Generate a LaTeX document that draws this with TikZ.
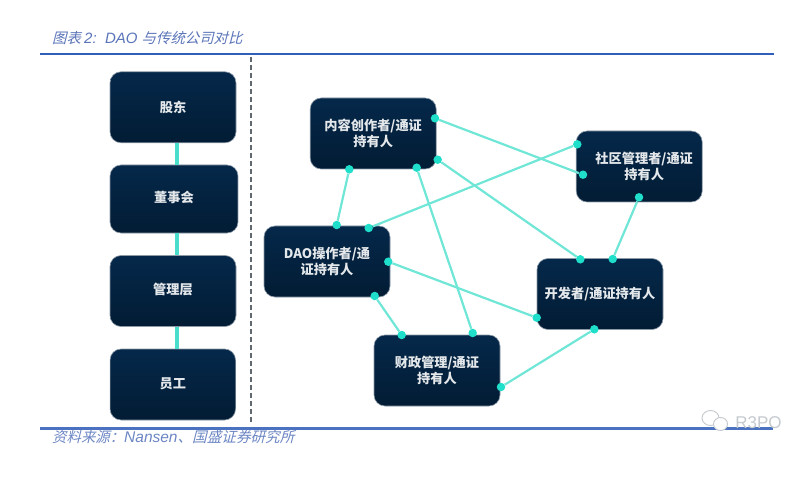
\documentclass[tikz,border=0pt]{standalone}
\usepackage{fontspec}
\newfontfamily\cjk{Noto Sans CJK SC}
\newfontfamily\cjkslant[AutoFakeSlant=0.25]{Noto Sans CJK SC}
\newfontfamily\latslant{Liberation Sans}
\definecolor{navytop}{HTML}{05284A}
\definecolor{navybot}{HTML}{021C34}
\definecolor{boxedge}{HTML}{8C9AA8}
\definecolor{boxtext}{HTML}{E4E8EB}
\definecolor{tealline}{HTML}{6FE6D6}
\definecolor{tealdot}{HTML}{1FDFCB}
\definecolor{tealbar}{HTML}{4ADDCC}
\definecolor{ruletop}{HTML}{2F5FB8}
\definecolor{rulebot}{HTML}{4A72C0}
\definecolor{captionblue}{HTML}{5A74B8}
\definecolor{sourceblue}{HTML}{6C86C4}
\definecolor{dashgrey}{HTML}{5F686E}
\definecolor{marktext}{HTML}{C4C9CE}
\tikzset{
  x=1pt,y=-1pt,
  orgbox/.style={draw=boxedge,line width=0.6pt,rounded corners=11pt,top color=navytop,bottom color=navybot,
    minimum width=126pt,minimum height=71pt,inner sep=0pt,align=center,text=boxtext,
    font=\cjk\fontsize{13.2}{16}\selectfont\bfseries},
  dot/.style={circle,fill=tealdot,minimum size=8.5pt,inner sep=0pt},
  link/.style={draw=tealline,line width=2.2pt},
  bar/.style={draw=tealbar,line width=3.4pt},
  rulea/.style={draw=ruletop,line width=1.8pt},
  ruleb/.style={draw=rulebot,line width=3pt},
  divider/.style={draw=dashgrey,line width=2pt,dash pattern=on 5pt off 3pt},
  captiontext/.style={inner sep=0pt,anchor=west,text=captionblue},
  sourcetext/.style={inner sep=0pt,anchor=west,text=sourceblue},
  wechat/.style={draw=marktext,fill=white,line width=0.9pt},
}
\begin{document}
\begin{tikzpicture}
\useasboundingbox (0,0) rectangle (811,481);
% rules
\coordinate (ta) at (40,54); \coordinate (tb) at (774,54);
\coordinate (ba) at (40,428); \coordinate (bb) at (773,428);
\coordinate (da) at (250.5,57); \coordinate (db) at (250.5,424);
\draw[rulea] (ta) -- (tb);
\draw[ruleb] (ba) -- (bb);
\draw[divider] (da) -- (db);
% captions
\node[captiontext] (title) at (52,38) {\cjkslant\fontsize{14.4}{16}\selectfont\itshape 图表 \latslant\itshape\fontsize{15}{16}\selectfont 2:\ \ DAO \cjkslant\itshape\fontsize{14.4}{16}\selectfont 与传统公司对比};
\node[sourcetext] (source) at (52,437) {\cjkslant\fontsize{14.4}{16}\selectfont\itshape 资料来源：\latslant\itshape\fontsize{15.5}{16}\selectfont Nansen\cjkslant\itshape\fontsize{14.6}{16}\selectfont 、国盛证券研究所};
% left column
\node[orgbox] (gd) at (173,107.3) {\raisebox{1pt}{股东}};
\node[orgbox,minimum width=128pt,minimum height=68pt] (dsh) at (174,199) {\raisebox{4pt}{董事会}};
\node[orgbox] (glc) at (173,291) {\raisebox{3.5pt}{管理层}};
\node[orgbox,minimum width=125.5pt] (yg) at (172.8,384.5) {\raisebox{3.5pt}{员工}};
\draw[bar] ([xshift=3.8pt]gd.south) -- ([xshift=3.8pt]gd.south |- dsh.north);
\draw[bar] ([xshift=3.8pt]gd.south |- dsh.south) -- ([xshift=3.8pt]gd.south |- glc.north);
\draw[bar] ([xshift=3.8pt]gd.south |- glc.south) -- ([xshift=3.8pt]gd.south |- yg.north);
% right network
\node[orgbox] (nr) at (373.2,133.5) {内容创作者/通证\\持有人};
\node[orgbox] (sq) at (639.2,166.5) {\hspace*{10pt}社区管理者/通证\\\hspace*{10pt}持有人};
\node[orgbox] (dao) at (327,261.5) {DAO操作者/通\\证持有人};
\node[orgbox] (kf) at (600,294) {开发者/通证持有人};
\node[orgbox] (cz) at (437,370.5) {财政管理/通证\\持有人};
% anchor dots
\node[dot] (nr1) at (435,118.3) {};
\node[dot] (nr2) at (437.7,159.7) {};
\node[dot] (nr3) at (416.7,167.7) {};
\node[dot] (nr4) at (349.3,169.3) {};
\node[dot] (dao1) at (336.7,225) {};
\node[dot] (dao2) at (368.7,228) {};
\node[dot] (dao3) at (388.3,261.7) {};
\node[dot] (dao4) at (374.7,296) {};
\node[dot] (sq1) at (577.3,144.3) {};
\node[dot] (sq2) at (583,174.7) {};
\node[dot] (sq3) at (639,197.3) {};
\node[dot] (kf1) at (580.3,259.3) {};
\node[dot] (kf2) at (612.7,259) {};
\node[dot] (kf3) at (536.7,317.7) {};
\node[dot] (kf4) at (594.3,329.3) {};
\node[dot] (cz1) at (401.7,335) {};
\node[dot] (cz2) at (472.7,333) {};
\node[dot] (cz3) at (501,387) {};
% links
\draw[link] (nr1) -- (sq2);
\draw[link] (nr2) -- (kf1);
\draw[link] (nr3) -- (cz2);
\draw[link] (nr4) -- (dao1);
\draw[link] (dao2) -- (sq1);
\draw[link] (dao3) -- (kf3);
\draw[link] (dao4) -- (cz1);
\draw[link] (sq3) -- (kf2);
\draw[link] (kf4) -- (cz3);
% watermark
\draw[wechat] (710.5,418) ellipse (8.5pt and 7.5pt);
\draw[wechat] (720.5,424) ellipse (7pt and 6.5pt);
\node[inner sep=0pt,text=marktext,font=\fontspec{Liberation Sans}\fontsize{17}{18}\selectfont] (mark) at (758.5,422.5) {R3PO};
\end{tikzpicture}
\end{document}
